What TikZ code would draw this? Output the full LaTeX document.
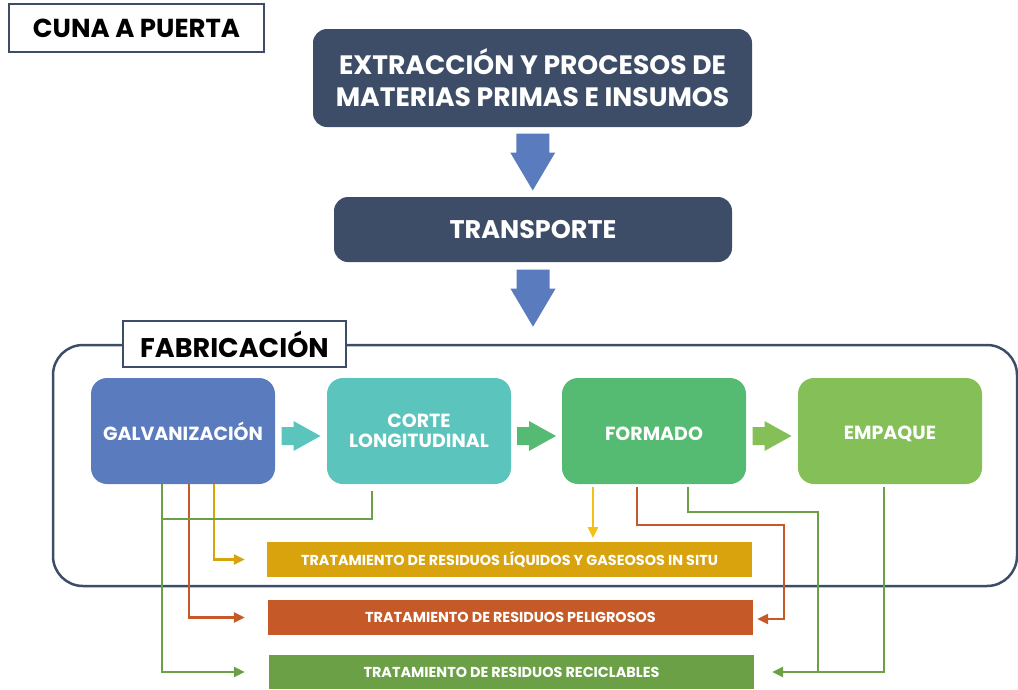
\documentclass[tikz,border=0pt]{standalone}
\usepackage{fontspec}
\setmainfont{Poppins}
\usetikzlibrary{calc,arrows.meta}
\definecolor{slate}{HTML}{3E4D67}
\definecolor{ablue}{HTML}{5A7BBE}
\definecolor{cteal}{HTML}{5BC4BC}
\definecolor{fgreen}{HTML}{55BB73}
\definecolor{egreen}{HTML}{84BF58}
\definecolor{byellow}{HTML}{D9A30E}
\definecolor{lyellow}{HTML}{F5BF1A}
\definecolor{borange}{HTML}{C55A28}
\definecolor{bgreen}{HTML}{6BA046}
\tikzset{
  titlebox/.style={draw=slate, line width=2pt, fill=white, inner sep=0pt, text=black},
  darkbox/.style={fill=slate, rounded corners=14pt, text=white, inner sep=0pt, align=center},
  procbox/.style={rounded corners=16pt, text=white, inner sep=0pt, align=center,
    minimum width=184pt, minimum height=106pt, font=\bfseries\fontsize{19}{20}\selectfont},
  bar/.style={inner sep=0pt, text=white, minimum width=485pt, minimum height=35pt,
    font=\bfseries\fontsize{14.4}{16}\selectfont},
  wire/.style={line width=2.5pt, draw=#1},
  tip/.style={-{Triangle[length=11pt,width=10pt]}},
  pics/vblock/.style={code={
    \fill[ablue] (-16.5,-28.5) -- (16.5,-28.5) -- (16.5,-9.5) -- (22.5,-9.5) -- (0,28.5)
      -- (-22.5,-9.5) -- (-16.5,-9.5) -- cycle;}},
  pics/hblock/.style={code={
    \fill[#1] (-19.5,-9) -- (-7.5,-9) -- (-7.5,-15) -- (19.5,0) -- (-7.5,15) -- (-7.5,9)
      -- (-19.5,9) -- cycle;}},
}
\begin{document}
\begin{tikzpicture}[x=1pt,y=-1pt]
\useasboundingbox (0,0) rectangle (1018,689);

% title
\node[titlebox, minimum width=255pt, minimum height=48pt,
  font=\bfseries\fontsize{26}{30}\selectfont] (cuna) at (136.5,28) {CUNA A PUERTA};

% top chain
\node[darkbox, minimum width=439pt, minimum height=98pt,
  font=\bfseries\fontsize{26.6}{32}\selectfont] (top) at (532.5,78)
  {EXTRACCIÓN Y PROCESOS DE\\MATERIAS PRIMAS E INSUMOS};
\node[darkbox, minimum width=398pt, minimum height=65pt,
  font=\bfseries\fontsize{25.5}{30}\selectfont] (trans) at (533,229.5) {TRANSPORTE};
\coordinate (a1) at ($(top.south)!.5!(trans.north)$);
\pic at (a1) {vblock};
\coordinate (a2) at ([yshift=-36pt]trans.south);
\pic at (a2) {vblock};

% fabrication frame
\node[draw=slate, line width=2.5pt, rounded corners=30pt, minimum width=964pt,
  minimum height=241pt, inner sep=0pt] (frame) at (535,465.5) {};
\node[titlebox, minimum width=223pt, minimum height=46pt,
  font=\bfseries\fontsize{27}{30}\selectfont] (fablbl) at (234.5,344) {FABRICACIÓN};

% process boxes
\node[procbox, fill=ablue] (galv) at (183,431) {GALVANIZACIÓN};
\node[procbox, fill=cteal] (corte) at (419,431) {CORTE\\LONGITUDINAL};
\node[procbox, fill=fgreen] (form) at (654,431) {\raisebox{-3pt}[\height][\depth]{FORMADO}};
\node[procbox, fill=egreen] (emp) at (890,431) {\raisebox{-3pt}[\height][\depth]{EMPAQUE}};

\coordinate (r1) at ($($(galv.east)!.5!(corte.west)$)+(0,5)$);
\pic at (r1) {hblock=cteal};
\coordinate (r2) at ($($(corte.east)!.5!(form.west)$)+(0,5)$);
\pic at (r2) {hblock=fgreen};
\coordinate (r3) at ($($(form.east)!.5!(emp.west)$)+(0,5)$);
\pic at (r3) {hblock=egreen};

% bars
\node[bar, fill=byellow] (yel) at (509.5,559.5) {TRATAMIENTO DE RESIDUOS LÍQUIDOS Y GASEOSOS IN SITU};
\node[bar, fill=borange] (ora) at (510.5,617.5) {TRATAMIENTO DE RESIDUOS PELIGROSOS};
\node[bar, fill=bgreen, minimum height=34pt] (grn) at (511.5,672) {TRATAMIENTO DE RESIDUOS RECICLABLES};

% coordinates for connectors
\coordinate (gy0) at ([xshift=31pt]galv.south);
\coordinate (go0) at ([xshift=6pt]galv.south);
\coordinate (gg0) at ([xshift=-21pt]galv.south);
\coordinate (yin) at ([xshift=-22pt]yel.west);
\coordinate (oin) at ([xshift=-23pt]ora.west);
\coordinate (gin) at ([xshift=-24pt]grn.west);
\coordinate (c0) at ([xshift=-47pt,yshift=-7pt]corte.south);
\coordinate (cj) at (162,519);
\coordinate (fy0) at ([xshift=-61pt,yshift=-3pt]form.south);
\coordinate (fy1) at (593,538);
\coordinate (fo0) at ([xshift=-17pt,yshift=-3pt]form.south);
\coordinate (fo1) at (784,525);
\coordinate (oout) at ([xshift=4pt,yshift=-1.5pt]ora.east);
\coordinate (fg0) at ([xshift=34pt,yshift=-3pt]form.south);
\coordinate (fg1) at (818,512);
\coordinate (gout) at ([xshift=18pt]grn.east);
\coordinate (e0) at ([xshift=-6pt,yshift=-3pt]emp.south);
\coordinate (ej) at (818,672);

% connectors from galvanizacion
\draw[wire=bgreen, tip] (gg0) |- (gin);
\draw[wire=borange, tip] (go0) |- (oin);
\draw[wire=byellow, tip] (gy0) |- (yin);
\draw[wire=bgreen] (c0) |- (cj);

% connectors from formado
\draw[wire=lyellow, tip] (fy0) -- (fy1);
\draw[wire=borange, tip] (fo0) |- (fo1) |- (oout);
\draw[wire=bgreen, tip] (fg0) |- (fg1) |- (gout);
\draw[wire=bgreen] (e0) |- (ej);
\end{tikzpicture}
\end{document}
